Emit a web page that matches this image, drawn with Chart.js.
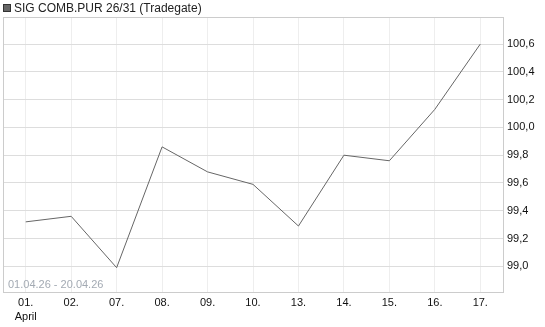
<!DOCTYPE html>
<html>
<head>
<meta charset="utf-8">
<script src="https://cdn.jsdelivr.net/npm/chart.js@4/dist/chart.umd.min.js"></script>
<style>
  html, body { margin: 0; padding: 0; background: #fff; }
  #wrap { position: relative; width: 545px; height: 327px; }
</style>
</head>
<body>
<div id="wrap"><canvas id="priceChart" width="545" height="327"></canvas></div>
<script>
// Data
const days = ['01.', '02.', '07.', '08.', '09.', '10.', '13.', '14.', '15.', '16.', '17.'];
const prices = [99.32, 99.36, 98.99, 99.86, 99.68, 99.59, 99.29, 99.80, 99.76, 100.13, 100.60];
const yTicks = [99.0, 99.2, 99.4, 99.6, 99.8, 100.0, 100.2, 100.4, 100.6];
const titleText = 'SIG COMB.PUR 26/31 (Tradegate)';
const rangeText = '01.04.26 - 20.04.26';

const FONT = '"Liberation Sans", Arial, sans-serif';

// title, range label and plot frame
const decorations = {
    id: 'decorations',
    afterDraw(chart) {
        const ctx = chart.ctx;
        const a = chart.chartArea;
        ctx.save();
        ctx.strokeStyle = '#cccccc';
        ctx.lineWidth = 1;
        ctx.strokeRect(Math.round(a.left) + 0.5, Math.round(a.top) + 0.5,
            Math.round(a.right - a.left), Math.round(a.bottom - a.top));

        // title square
        ctx.fillStyle = '#666666';
        ctx.fillRect(3, 4, 8, 8);
        ctx.strokeStyle = '#333333';
        ctx.strokeRect(3.5, 4.5, 7, 7);

        ctx.fillStyle = '#222222';
        ctx.font = '12px ' + FONT;
        ctx.textBaseline = 'middle';
        ctx.fillText(titleText, 14, 8.5);

        ctx.fillStyle = '#a3aab3';
        ctx.font = '11px ' + FONT;
        ctx.textBaseline = 'alphabetic';
        ctx.fillText(rangeText, 8, a.bottom - 4);
        ctx.restore();
    }
};

new Chart(document.getElementById('priceChart'), {
    type: 'line',
    data: {
        labels: days.map((d, i) => i === 0 ? [d, 'April'] : d),
        datasets: [{
            data: prices,
            borderColor: '#666666',
            borderWidth: 1,
            pointRadius: 0,
            tension: 0,
            fill: false
        }]
    },
    options: {
        responsive: false,
        animation: false,
        layout: { padding: { top: 17, left: 3, right: 0, bottom: 0 } },
        plugins: {
            legend: { display: false },
            tooltip: { enabled: false }
        },
        scales: {
            x: {
                offset: true,
                grid: { color: '#eeeeee', drawTicks: false, offset: false },
                border: { display: false },
                ticks: {
                    color: '#111111',
                    font: { family: FONT, size: 11, lineHeight: 1.3 },
                    padding: 4,
                    maxRotation: 0,
                    autoSkip: false
                },
                afterFit(scale) { scale.height = 35; }
            },
            y: {
                position: 'right',
                min: 98.815,
                max: 100.795,
                grid: { color: '#dddddd', drawTicks: false },
                border: { display: false },
                afterBuildTicks(scale) {
                    scale.ticks = yTicks.map(v => ({ value: v }));
                },
                ticks: {
                    color: '#111111',
                    font: { family: FONT, size: 11 },
                    padding: 4,
                    callback: v => v.toFixed(1).replace('.', ',')
                },
                afterFit(scale) { scale.width = 42; }
            }
        }
    },
    plugins: [decorations]
});
</script>
</body>
</html>
